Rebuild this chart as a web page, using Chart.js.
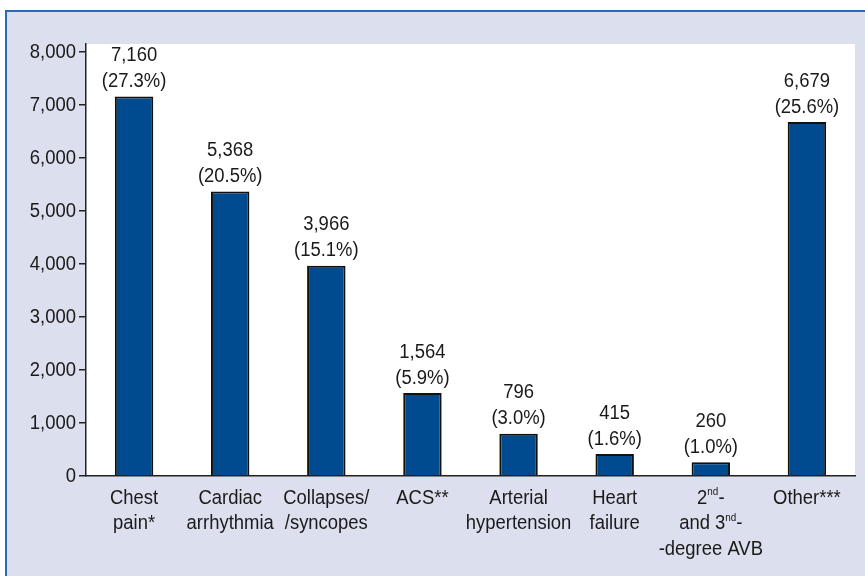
<!DOCTYPE html>
<html>
<head>
<meta charset="utf-8">
<script src="https://cdn.jsdelivr.net/npm/chart.js@4"></script>
<style>
  html, body { margin: 0; padding: 0; background: #fff; }
  #wrap { width: 865px; height: 576px; }
</style>
</head>
<body>
<div id="wrap"><canvas id="chart" width="865" height="576"></canvas></div>
<script>
// Danh mục (dùng ^{..} cho chữ số mũ)
const categories = [
  ["Chest", "pain*"],
  ["Cardiac", "arrhythmia"],
  ["Collapses/", "/syncopes"],
  ["ACS**"],
  ["Arterial", "hypertension"],
  ["Heart", "failure"],
  ["2^{nd}-", "and 3^{nd}-", "-degree AVB"],
  ["Other***"]
];
const counts = [7160, 5368, 3966, 1564, 796, 415, 260, 6679];
const percents = [27.3, 20.5, 15.1, 5.9, 3.0, 1.6, 1.0, 25.6];
const yTicks = [0, 1000, 2000, 3000, 4000, 5000, 6000, 7000, 8000];

const FAMILY = "'Liberation Sans', Arial, sans-serif";
const FONT = "20.5px " + FAMILY;
const SUP_FONT = "11px " + FAMILY;
const SQUEEZE = 0.9; // nén ngang cho giống font condensed
const TEXT = "#1a1a1a";

// Nền khung + vùng vẽ trắng
const backgroundPlugin = {
  id: "bg",
  beforeDraw(chart) {
    const c = chart.ctx;
    const a = chart.chartArea;
    c.save();
    c.fillStyle = "#ffffff";
    c.fillRect(0, 0, chart.width, chart.height);
    c.fillStyle = "#dcdfee";
    c.fillRect(6, 11, chart.width, chart.height);
    c.strokeStyle = "#2d68b2";
    c.lineWidth = 2;
    c.beginPath();
    c.moveTo(6, chart.height + 5);
    c.lineTo(6, 11);
    c.lineTo(chart.width + 5, 11);
    c.stroke();
    c.fillStyle = "#ffffff";
    c.fillRect(a.left, a.top, a.right - a.left, a.bottom - a.top);
    c.restore();
  }
};

// Chữ nén ngang
function squeezed(c, text, x, y, align, font) {
  c.save();
  c.font = font || FONT;
  c.textAlign = align;
  c.textBaseline = "middle";
  c.translate(x, y);
  c.scale(SQUEEZE, 1);
  c.fillText(text, 0, 0);
  c.restore();
}

// Vẽ một dòng có chữ mũ
function drawRich(c, line, cx, cy) {
  const parts = [];
  const re = /\^\{([^}]*)\}/g;
  let last = 0, m;
  while ((m = re.exec(line)) !== null) {
    if (m.index > last) parts.push({ t: line.slice(last, m.index), sup: false });
    parts.push({ t: m[1], sup: true });
    last = re.lastIndex;
  }
  if (last < line.length) parts.push({ t: line.slice(last), sup: false });
  let total = 0;
  parts.forEach(p => {
    c.font = p.sup ? SUP_FONT : FONT;
    p.w = c.measureText(p.t).width * SQUEEZE;
    total += p.w;
  });
  let x = cx - total / 2;
  parts.forEach(p => {
    squeezed(c, p.t, x, p.sup ? cy - 6 : cy, "left", p.sup ? SUP_FONT : FONT);
    x += p.w;
  });
}

// Nhãn trục, nhãn giá trị trên cột
const labelPlugin = {
  id: "labels",
  afterDraw(chart) {
    const c = chart.ctx;
    const meta = chart.getDatasetMeta(0);
    const ys = chart.scales.y;
    c.save();
    c.fillStyle = TEXT;
    yTicks.forEach(v => {
      squeezed(c, v.toLocaleString("en-US"), chart.chartArea.left - 10, ys.getPixelForValue(v), "right");
    });
    categories.forEach((lines, i) => {
      const cx = meta.data[i].x;
      lines.forEach((ln, j) => drawRich(c, ln, cx, chart.chartArea.bottom + 22 + j * 25.5));
    });
    meta.data.forEach((bar, i) => {
      squeezed(c, counts[i].toLocaleString("en-US"), bar.x, bar.y - 41, "center");
      squeezed(c, "(" + percents[i].toFixed(1) + "%)", bar.x, bar.y - 15, "center");
    });
    c.restore();
  }
};

const ctx = document.getElementById("chart").getContext("2d");
const chart = new Chart(ctx, {
  type: "bar",
  data: {
    labels: categories.map(l => l.join(" ")),
    datasets: [
      {
        data: counts,
        backgroundColor: "#004a90",
        borderColor: "#111111",
        borderWidth: 2,
        borderSkipped: "bottom",
        barPercentage: 0.4,
        categoryPercentage: 1.0
      }
    ]
  },
  options: {
    responsive: false,
    animation: false,
    devicePixelRatio: 1,
    layout: { padding: { left: 79, top: 44, right: 10, bottom: 92 } },
    plugins: {
      legend: { display: false },
      tooltip: { enabled: false }
    },
    scales: {
      x: {
        ticks: { display: false },
        grid: { display: false },
        border: { display: true, color: "#222", width: 1.5 }
      },
      y: {
        min: 0,
        max: 8150,
        afterBuildTicks(scale) {
          scale.ticks = yTicks.map(v => ({ value: v }));
        },
        ticks: { display: false },
        grid: { drawOnChartArea: false, tickLength: 7, color: "#222", lineWidth: 1.5 },
        border: { display: true, color: "#222", width: 1.5 }
      }
    }
  },
  plugins: [backgroundPlugin, labelPlugin]
});
</script>
</body>
</html>
